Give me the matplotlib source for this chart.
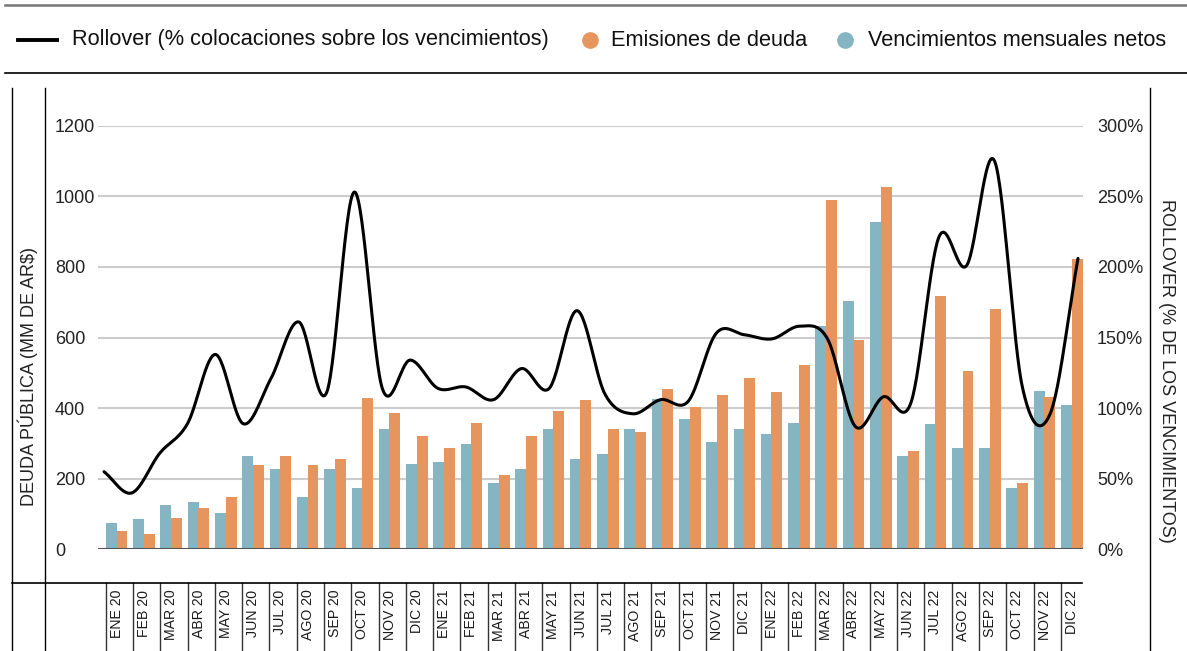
import numpy as np
import matplotlib
matplotlib.use('Agg')
import matplotlib.pyplot as plt
from matplotlib import font_manager
from matplotlib.lines import Line2D
from matplotlib.transforms import blended_transform_factory

# datos (MM de AR$ y % de rollover)
meses = ['ENE', 'FEB', 'MAR', 'ABR', 'MAY', 'JUN', 'JUL', 'AGO', 'SEP', 'OCT', 'NOV', 'DIC']
anios = ['20', '21', '22']
etiquetas = [f'{m} {a}' for a in anios for m in meses]

vencimientos = [74, 85, 125, 133, 102, 264, 227, 148, 227, 173, 340, 241,
                247, 298, 187, 227, 340, 255, 270, 340, 425, 369, 304, 340,
                326, 357, 633, 704, 928, 264, 355, 287, 287, 173, 448, 409]
emisiones = [51, 45, 88, 116, 148, 238, 264, 238, 255, 428, 386, 321,
             287, 357, 210, 321, 391, 423, 340, 332, 454, 403, 437, 485,
             445, 522, 990, 593, 1027, 278, 718, 505, 681, 187, 431, 823]
rollover = [55, 40, 68, 89, 138, 89, 121, 161, 111, 253, 114, 134,
            114, 115, 106, 128, 114, 169, 110, 96, 106, 105, 153, 152,
            149, 158, 149, 87, 108, 104, 221, 201, 275, 115, 96, 206]

AZUL = '#85B4C2'
NARANJA = '#E6955F'


def fuente(*nombres):
    for n in nombres:
        try:
            font_manager.findfont(n, fallback_to_default=False)
            return n
        except Exception:
            pass
    return 'DejaVu Sans'


FUENTE = fuente('Liberation Sans', 'Arial', 'DejaVu Sans')
plt.rcParams['font.family'] = [FUENTE, 'DejaVu Sans']


# curva suavizada (Catmull-Rom) para dibujar la línea
def suavizar(ys, n=30):
    y = np.asarray(ys, float)
    yp = np.concatenate([[2 * y[0] - y[1]], y, [2 * y[-1] - y[-2]]])
    xs, out = [], []
    t = np.linspace(0, 1, n, endpoint=False)
    for i in range(len(y) - 1):
        p0, p1, p2, p3 = yp[i], yp[i + 1], yp[i + 2], yp[i + 3]
        m1, m2 = (p2 - p0) / 2, (p3 - p1) / 2
        h00 = 2 * t**3 - 3 * t**2 + 1
        h10 = t**3 - 2 * t**2 + t
        h01 = -2 * t**3 + 3 * t**2
        h11 = t**3 - t**2
        out.append(h00 * p1 + h10 * m1 + h01 * p2 + h11 * m2)
        xs.append(i + t)
    xs.append([len(y) - 1])
    out.append([y[-1]])
    return np.concatenate(xs), np.concatenate(out)


W, H = 1187, 651
fig = plt.figure(figsize=(W / 100, H / 100), dpi=100)

pos = [98 / W, (H - 549.4) / H, 985 / W, 423.8 / H]
ax = fig.add_axes(pos)
x = np.arange(len(etiquetas))
ax.bar(x - 0.195, vencimientos, width=0.4, color=AZUL, lw=0, zorder=2)
ax.bar(x + 0.195, emisiones, width=0.4, color=NARANJA, lw=0, zorder=2)
ax.set_xlim(-0.685, 35.41)
ax.set_ylim(0, 1200)
ax.set_yticks(range(0, 1201, 200))
ax.grid(axis='y', color='#cccccc', lw=1.5, zorder=0)
ax.axhline(0, color='#555555', lw=1.5, zorder=3)
for s in ax.spines.values():
    s.set_visible(False)
ax.tick_params(axis='y', length=0, pad=31, labelsize=13, labelcolor='#222222')
for lab in ax.get_yticklabels():
    lab.set_ha('left')
ax.set_xticks(x)
ax.set_xticklabels(etiquetas, rotation=90, fontsize=10.2)
ax.tick_params(axis='x', length=0, pad=29, labelcolor='#1a1a1a')

# línea de rollover con su propia escala
ax2 = fig.add_axes(pos, facecolor='none')
lx, ly = suavizar(rollover)
ax2.plot(lx, ly, color='black', lw=2.2, zorder=5, solid_capstyle='round')
ax2.set_xlim(-0.2156, 35.18)
ax2.set_ylim(0, 300)
ax2.set_xticks([])
ax2.yaxis.tick_right()
ax2.set_yticks(range(0, 301, 50))
ax2.set_yticklabels([f'{v}%' for v in range(0, 301, 50)])
ax2.tick_params(axis='y', length=0, pad=10, labelsize=13, labelcolor='#222222')
for s in ax2.spines.values():
    s.set_visible(False)

# títulos de ejes
fig.text(28 / W, 1 - 376 / H, 'DEUDA PÚBLICA (MM DE AR$)', rotation=90,
         ha='center', va='center', fontsize=13, color='#222222')
fig.text(1166 / W, 1 - 371 / H, 'ROLLOVER (% DE LOS VENCIMIENTOS)', rotation=270,
         ha='center', va='center', fontsize=13, color='#222222')

# marcos y separadores
def linea(x0, y0, x1, y1, color='black', lw=1.0):
    fig.add_artist(Line2D([x0 / W, x1 / W], [1 - y0 / H, 1 - y1 / H],
                          color=color, lw=lw, transform=fig.transFigure))

linea(5, 5, W, 5, color='#777777', lw=1.8)
linea(5, 73, W, 73, lw=1.2)
linea(12, 88, 12, H)
linea(45, 88, 45, H)
linea(1150, 88, 1150, H)
linea(12, 583, 1082, 583, lw=1.2)

tr = blended_transform_factory(ax.transData, fig.transFigure)
for i in x:
    ax.add_line(Line2D([i - 0.403, i - 0.403], [0, 1 - 583 / H], color='#333333',
                       lw=1.0, transform=tr, clip_on=False))

# leyenda
ly0 = 1 - 40 / H
linea(18, 40, 57, 40, lw=2.8)
fig.text(72 / W, ly0, 'Rollover (% colocaciones sobre los vencimientos)', ha='left',
         va='center', fontsize=15.7, color='#111111')
fig.add_artist(Line2D([590 / W], [ly0], marker='o', ms=11, color=NARANJA, lw=0,
                      transform=fig.transFigure))
fig.text(611 / W, ly0, 'Emisiones de deuda', ha='left', va='center', fontsize=15.7,
         color='#111111')
fig.add_artist(Line2D([845 / W], [ly0], marker='o', ms=11, color=AZUL, lw=0,
                      transform=fig.transFigure))
fig.text(868 / W, ly0, 'Vencimientos mensuales netos', ha='left', va='center',
         fontsize=15.7, color='#111111')

fig.savefig('out.png', dpi=100)
